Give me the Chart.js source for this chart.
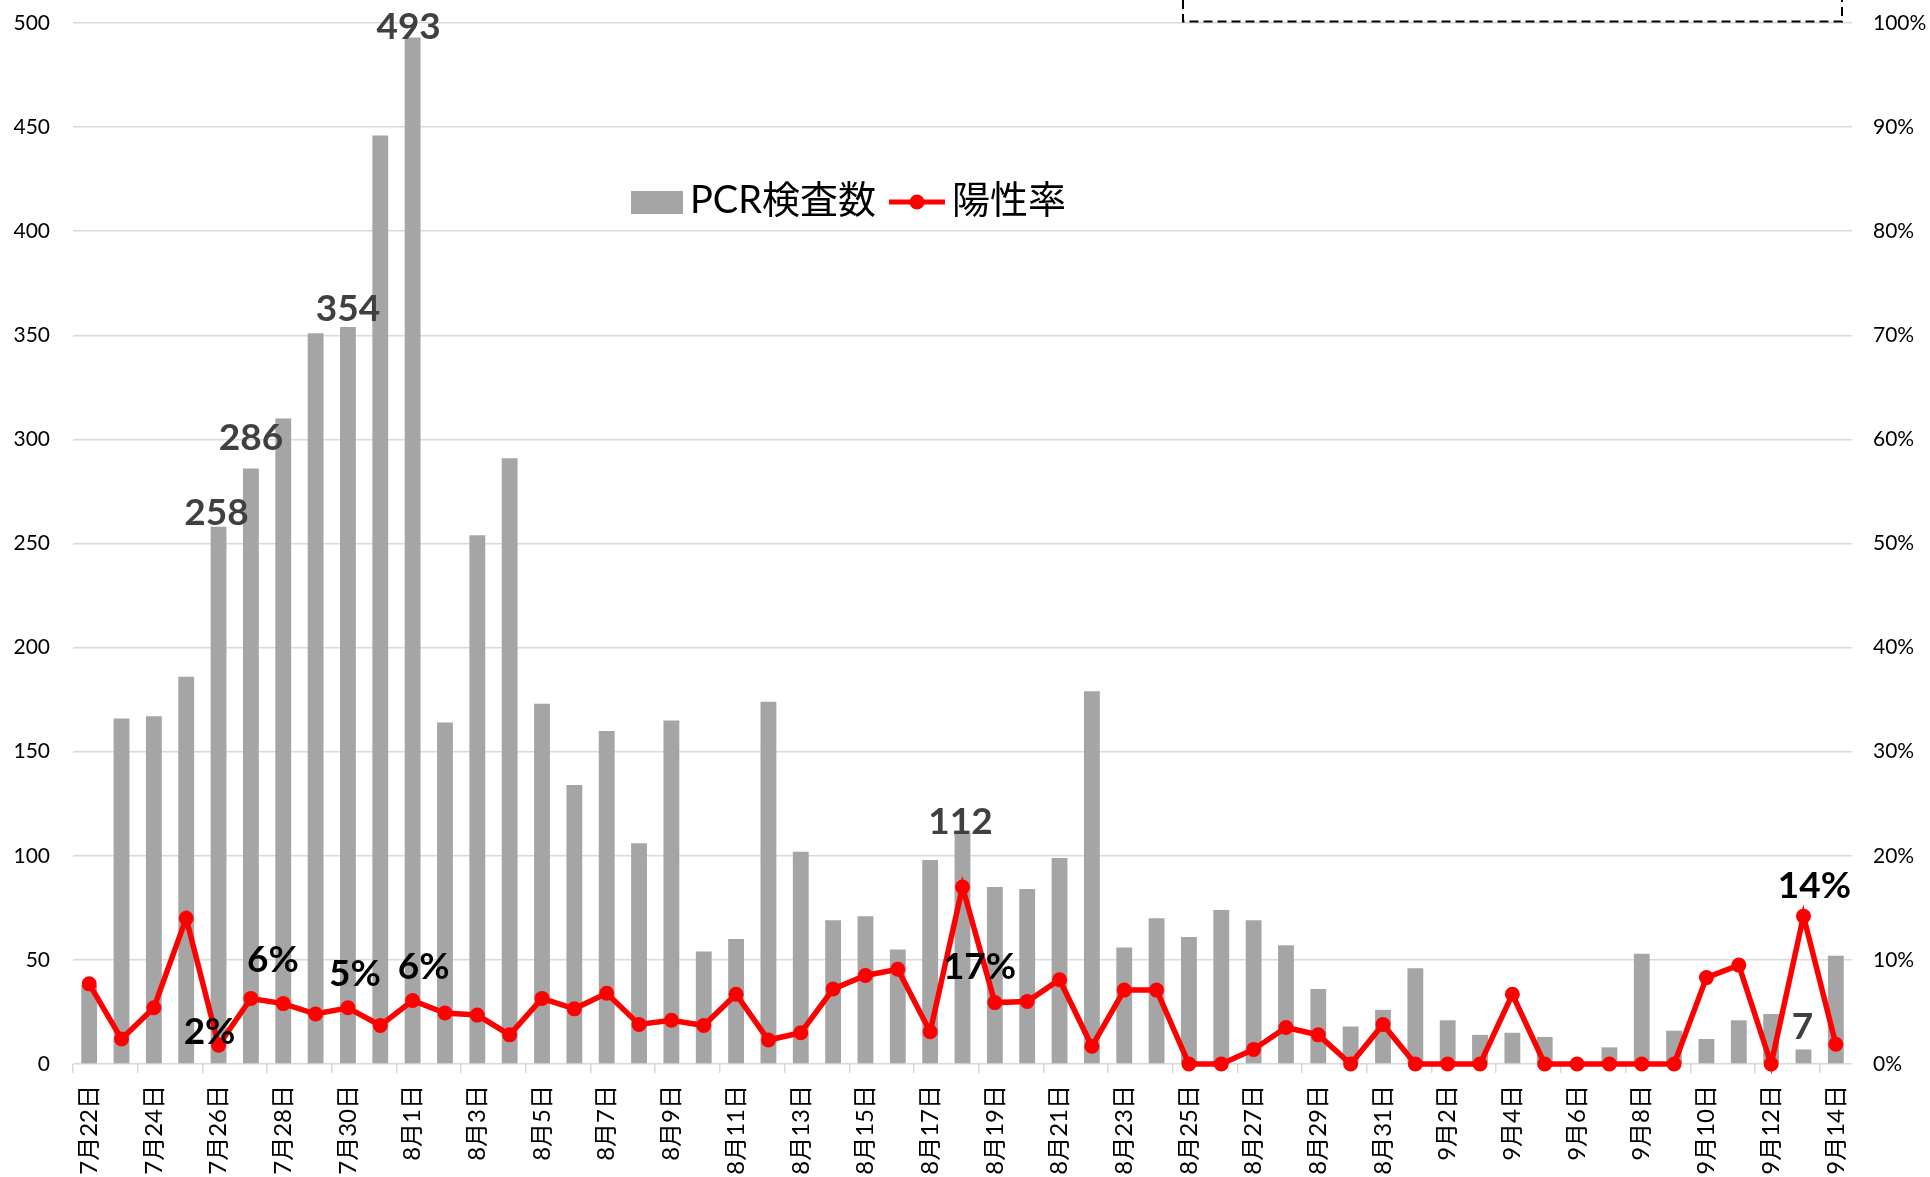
<!DOCTYPE html>
<html>
<head>
<meta charset="utf-8">
<script src="https://cdn.jsdelivr.net/npm/chart.js@4.4.1/dist/chart.umd.min.js"></script>
<style>
html,body{margin:0;padding:0;background:#fff;overflow:hidden}
canvas{display:block}
</style>
</head>
<body>
<canvas id="c" width="1930" height="1177"></canvas>
<script>
// ---- data ----
const dates = [
  '7月22日','7月23日','7月24日','7月25日','7月26日','7月27日','7月28日','7月29日','7月30日','7月31日',
  '8月1日','8月2日','8月3日','8月4日','8月5日','8月6日','8月7日','8月8日','8月9日','8月10日',
  '8月11日','8月12日','8月13日','8月14日','8月15日','8月16日','8月17日','8月18日','8月19日','8月20日',
  '8月21日','8月22日','8月23日','8月24日','8月25日','8月26日','8月27日','8月28日','8月29日','8月30日',
  '8月31日','9月1日','9月2日','9月3日','9月4日','9月5日','9月6日','9月7日','9月8日','9月9日',
  '9月10日','9月11日','9月12日','9月13日','9月14日'
];
const pcrCounts = [
  38,166,167,186,258,286,310,351,354,446,
  493,164,254,291,173,134,160,106,165,54,
  60,174,102,69,71,55,98,112,85,84,
  99,179,56,70,61,74,69,57,36,18,
  26,46,21,14,15,13,0,8,53,16,
  12,21,24,7,52
];
const positivity = [
  7.7,2.4,5.4,14.0,1.8,6.3,5.8,4.8,5.4,3.7,
  6.1,4.9,4.7,2.8,6.3,5.3,6.8,3.8,4.2,3.7,
  6.7,2.3,3.0,7.2,8.5,9.1,3.1,17.0,5.9,6.0,
  8.1,1.7,7.1,7.1,0,0,1.4,3.5,2.8,0,
  3.8,0,0,0,6.7,0,0,0,0,0,
  8.3,9.5,0,14.2,1.9
];
const countTicks = [0,50,100,150,200,250,300,350,400,450,500];
const rateTicks = [0,10,20,30,40,50,60,70,80,90,100];
const seriesNames = ['PCR検査数','陽性率'];
// indices of annotated days
const labelledDays = [4,5,8,10,27,53];

// ---- label placement (offsets in px, relative to bar top / point) ----
const countLabelShift = [[-2,-15],[0,-32],[0,-19],[-4,-12],[-2,-10],[-1,-23]];
const rateLabelShift  = [[-9,-14],[22,-39],[7,-35],[11,-34],[17,79],[11,-31]];

const FAMILY = 'Lato, "Noto Sans CJK JP", sans-serif';

const overlayPlugin = {
  id: 'overlay',
  afterDatasetsDraw(chart) {
    const {ctx} = chart;
    const xs = chart.scales.x, ys = chart.scales.y, ys1 = chart.scales.y1;
    ctx.save();
    ctx.textAlign = 'center';
    ctx.textBaseline = 'alphabetic';
    // count labels
    ctx.font = 'bold 37px ' + FAMILY;
    ctx.fillStyle = '#404040';
    labelledDays.forEach((i, k) => {
      const t = String(pcrCounts[i]);
      const m = ctx.measureText(t);
      const cx = xs.getPixelForValue(i) + countLabelShift[k][0];
      const cy = ys.getPixelForValue(pcrCounts[i]) + countLabelShift[k][1];
      ctx.fillText(t, cx, cy + (m.actualBoundingBoxAscent - m.actualBoundingBoxDescent) / 2);
    });
    // rate labels
    ctx.fillStyle = '#000000';
    labelledDays.forEach((i, k) => {
      const t = Math.round(positivity[i]) + '%';
      const m = ctx.measureText(t);
      const cx = xs.getPixelForValue(i) + rateLabelShift[k][0];
      const cy = ys1.getPixelForValue(positivity[i]) + rateLabelShift[k][1];
      ctx.fillText(t, cx, cy + (m.actualBoundingBoxAscent - m.actualBoundingBoxDescent) / 2);
    });
    ctx.restore();
  },
  afterDraw(chart) {
    const {ctx} = chart;
    ctx.save();
    // legend
    ctx.fillStyle = '#a5a5a5';
    ctx.fillRect(631, 191, 52, 23);
    ctx.font = '38px ' + FAMILY;
    ctx.fillStyle = '#000';
    ctx.textAlign = 'left';
    ctx.textBaseline = 'alphabetic';
    ctx.fillText(seriesNames[0], 690, 213);
    ctx.strokeStyle = '#ff0000';
    ctx.lineWidth = 5;
    ctx.beginPath();
    ctx.moveTo(889, 202);
    ctx.lineTo(945, 202);
    ctx.stroke();
    ctx.fillStyle = '#ff0000';
    ctx.beginPath();
    ctx.arc(917, 202, 7.5, 0, Math.PI * 2);
    ctx.fill();
    ctx.fillStyle = '#000';
    ctx.fillText(seriesNames[1], 952, 213);
    // dashed note box (cut off at the top)
    ctx.strokeStyle = '#000';
    ctx.lineWidth = 2;
    ctx.setLineDash([9, 5]);
    ctx.strokeRect(1183, -20, 659, 41.5);
    ctx.restore();
  }
};

function build() {
  new Chart(document.getElementById('c'), {
    type: 'bar',
    data: {
      labels: dates,
      datasets: [
        {
          type: 'line', label: seriesNames[1], data: positivity, yAxisID: 'y1',
          borderColor: '#ff0000', backgroundColor: '#ff0000', borderWidth: 5.5,
          pointRadius: 7.5, pointHoverRadius: 7.5, pointBorderWidth: 0,
          pointBackgroundColor: '#ff0000', tension: 0, order: 1, clip: false
        },
        {
          type: 'bar', label: seriesNames[0], data: pcrCounts, yAxisID: 'y',
          backgroundColor: '#a5a5a5', barPercentage: 0.49, categoryPercentage: 1, order: 2
        }
      ]
    },
    options: {
      responsive: false,
      animation: false,
      devicePixelRatio: 1,
      layout: {padding: {top: 23, left: 0, right: 0, bottom: 0}},
      plugins: {legend: {display: false}, tooltip: {enabled: false}},
      scales: {
        x: {
          offset: true,
          grid: {
            offset: true, drawOnChartArea: false, drawTicks: true, tickLength: 9, lineWidth: 1.5,
            color: c => (c.index !== undefined && c.index % 2 === 0) ? '#d9d9d9' : 'rgba(0,0,0,0)'
          },
          border: {display: false},
          ticks: {
            autoSkip: false, maxRotation: 90, minRotation: 90, padding: 12,
            color: '#000', font: {family: FAMILY, size: 24},
            callback: (v, i) => (i % 2 === 0 ? dates[i] : '')
          },
          afterFit: s => { s.height = 113; }
        },
        y: {
          position: 'left', min: 0, max: 500,
          afterBuildTicks: s => { s.ticks = countTicks.map(v => ({value: v})); },
          ticks: {padding: 23, color: '#000', font: {family: FAMILY, size: 21}},
          grid: {color: '#d9d9d9', lineWidth: 1.5, drawTicks: false},
          border: {display: false},
          afterFit: s => { s.width = 73; s.paddingTop = 0; s.paddingBottom = 0; }
        },
        y1: {
          position: 'right', min: 0, max: 100,
          afterBuildTicks: s => { s.ticks = rateTicks.map(v => ({value: v})); },
          ticks: {padding: 21, color: '#000', font: {family: FAMILY, size: 21}, callback: v => v + '%'},
          grid: {drawOnChartArea: false, drawTicks: false},
          border: {display: false},
          afterFit: s => { s.width = 78; s.paddingTop = 0; s.paddingBottom = 0; }
        }
      }
    },
    plugins: [overlayPlugin]
  });
}

const fontLoads = [
  '21px Lato', 'bold 37px Lato', '24px "Noto Sans CJK JP"', '38px "Noto Sans CJK JP"'
].map(f => document.fonts.load(f).catch(() => null));
Promise.all(fontLoads).then(build, build);
</script>
</body>
</html>
